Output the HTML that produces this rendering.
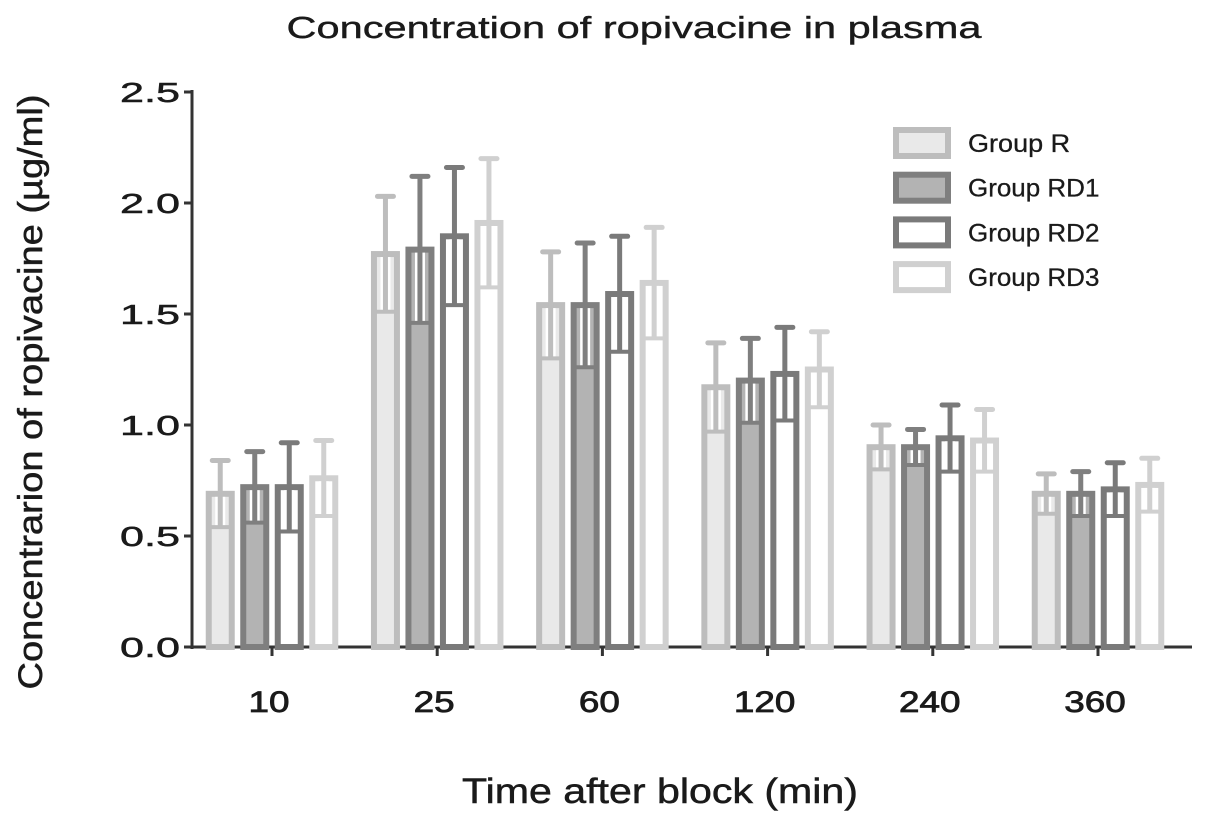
<!DOCTYPE html>
<html><head><meta charset="utf-8"><style>body{margin:0;background:#fff}svg{display:block;font-family:"Liberation Sans",sans-serif}</style></head>
<body>
<svg id="c" width="1205" height="823">
<text x="634" y="38" font-size="31" text-anchor="middle" textLength="695" lengthAdjust="spacingAndGlyphs" fill="#1a1a1a" stroke="#1a1a1a" stroke-width="0.4">Concentration of ropivacine in plasma</text>
<text x="660" y="803" font-size="35" text-anchor="middle" textLength="396" lengthAdjust="spacingAndGlyphs" fill="#1a1a1a" stroke="#1a1a1a" stroke-width="0.5">Time after block (min)</text>
<text transform="translate(42,392) rotate(-90)" font-size="34" text-anchor="middle" textLength="595" lengthAdjust="spacingAndGlyphs" fill="#1a1a1a" stroke="#1a1a1a" stroke-width="0.5">Concentrarion of ropivacine (µg/ml)</text>
<g id="plot"></g>
</svg>
<script>
const categories=["10","25","60","120","240","360"];
const groups=["Group R","Group RD1","Group RD2","Group RD3"];
const meanR=[0.69,1.77,1.54,1.17,0.90,0.69];
const meanRD1=[0.72,1.79,1.54,1.20,0.90,0.69];
const meanRD2=[0.72,1.85,1.59,1.23,0.94,0.71];
const meanRD3=[0.76,1.91,1.64,1.25,0.93,0.73];
const sdR=[0.15,0.26,0.24,0.20,0.10,0.09];
const sdRD1=[0.16,0.33,0.28,0.19,0.08,0.10];
const sdRD2=[0.20,0.31,0.26,0.21,0.15,0.12];
const sdRD3=[0.17,0.29,0.25,0.17,0.14,0.12];
const yTicks=[0,0.5,1.0,1.5,2.0,2.5];
const means=[meanR,meanRD1,meanRD2,meanRD3], sds=[sdR,sdRD1,sdRD2,sdRD3];
const strokes=["#bdbdbd","#7f7f7f","#7a7a7a","#d0d0d0"], fills=["#e9e9e9","#b3b3b3","#ffffff","#ffffff"];
const NS="http://www.w3.org/2000/svg", g=document.getElementById("plot");
const y=v=>647-v*222, xc=i=>272+i*165.2;
function el(t,a,p){const e=document.createElementNS(NS,t);for(const k in a)e.setAttribute(k,a[k]);(p||g).appendChild(e);return e;}
let ya=el("line",{x1:192,y1:90,x2:192,y2:649,stroke:"#333","stroke-width":3});


let xa=el("line",{x1:191,y1:647,x2:1192,y2:647,stroke:"#333","stroke-width":3});


yTicks.forEach(t=>{
  el("line",{x1:184,y1:y(t),x2:192,y2:y(t),stroke:"#333","stroke-width":3});
  const tx=el("text",{x:180,y:y(t)+10,"font-size":28,"text-anchor":"end",textLength:60,lengthAdjust:"spacingAndGlyphs",fill:"#1a1a1a",stroke:"#1a1a1a","stroke-width":0.5});tx.textContent=t.toFixed(1);
  
  
});
categories.forEach((c,i)=>{
  el("line",{x1:xc(i),y1:647,x2:xc(i),y2:656,stroke:"#333","stroke-width":3});
  const tx=el("text",{x:xc(i)-3,y:712,"font-size":30,"text-anchor":"middle",textLength:c.length*20.5,lengthAdjust:"spacingAndGlyphs",fill:"#1a1a1a",stroke:"#1a1a1a","stroke-width":0.8});tx.textContent=c;
  
  
  for(let s=0;s<4;s++){
    const m=means[s][i], sd=sds[s][i], cx=xc(i)+(s-1.5)*34.5;
    const top=y(m), hi=y(m+sd), lo=y(m-sd);
    const b=el("rect",{x:cx-11.5,y:top,width:23,height:647-top,fill:fills[s],stroke:strokes[s],"stroke-width":6});
    
    
    el("rect",{x:cx-5,y:top+3,width:10,height:lo-top-3,fill:"#fff"});
    el("line",{x1:cx,y1:hi,x2:cx,y2:lo,stroke:strokes[s],"stroke-width":5});
    el("line",{x1:cx-9,y1:lo,x2:cx+9,y2:lo,stroke:strokes[s],"stroke-width":4});
    const cap=el("line",{x1:cx-8,y1:hi,x2:cx+8,y2:hi,stroke:strokes[s],"stroke-width":5,"stroke-linecap":"round"});
    
    
  }
});
groups.forEach((n,s)=>{
  const cy=143+s*44.7;
  const r=el("rect",{x:896,y:cy-13,width:52,height:26,fill:fills[s],stroke:strokes[s],"stroke-width":6});
  
  
  const t=el("text",{x:968,y:cy+9,"font-size":25,textLength:n.length*14.6,lengthAdjust:"spacingAndGlyphs",fill:"#1a1a1a",stroke:"#1a1a1a","stroke-width":0.3});t.textContent=n;
  
  
});
</script>
</body></html>
